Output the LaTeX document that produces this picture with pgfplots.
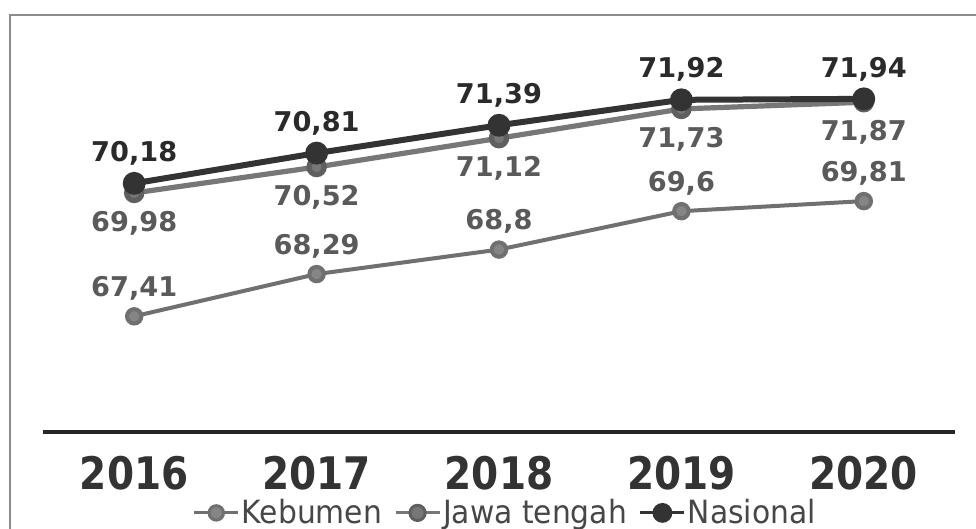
\documentclass[border=0pt]{standalone}
\usepackage{pgfplots}
\pgfplotsset{compat=1.18}
\usepackage{fontspec}
\setmainfont{DejaVu Sans}
\definecolor{cnas}{HTML}{333333}
\definecolor{cjaw}{HTML}{777777}
\definecolor{ckeb}{HTML}{707070}
\definecolor{lnas}{HTML}{2A2A2A}
\definecolor{lgry}{HTML}{5A5A5A}
\begin{document}
\begin{tikzpicture}
\useasboundingbox (0,0) rectangle (488pt,264.5pt);
\fill[white] (0,0) rectangle (488pt,264.5pt);
\draw[line width=1.4pt, color=black!45] (5pt,-1pt) -- (5pt,257pt) -- (489pt,257pt);
\begin{axis}[
  at={(21.5pt,48.5pt)}, anchor=south west,
  scale only axis, width=456pt, height=208.5pt,
  xmin=2015.5, xmax=2020.5, ymin=65, ymax=73.6875,
  axis x line*=bottom, axis y line=none,
  x axis line style={line width=1.6pt, color=black!85, -},
  xtick={2016,2017,2018,2019,2020},
  xticklabels={\scalebox{1}[1.15]{2016},\scalebox{1}[1.15]{2017},\scalebox{1}[1.15]{2018},\scalebox{1}[1.15]{2019},\scalebox{1}[1.15]{2020}},
  major tick length=0pt,
  xticklabel style={font=\fontsize{19.5}{19.5}\selectfont\bfseries, text=black!80, yshift=-8.5pt},
  clip=false,
  point meta=explicit symbolic,
  nodes near coords,
  every node near coord/.append style={anchor=center, font=\fontsize{13.6}{13.6}\selectfont\bfseries},
  legend style={at={(0.508,-0.194)}, anchor=center, draw=none, fill=none,
    legend columns=3, font=\fontsize{16}{16}\selectfont, text=black!72,
    /tikz/every even column/.append style={column sep=4pt}, inner sep=0pt,
    /tikz/every odd column/.append style={column sep=-1pt}},
  legend image code/.code={\draw[#1, line width=1.5pt, mark repeat=2, mark phase=2] plot coordinates {(0pt,0pt) (11pt,0pt) (22pt,0pt)};},
]
\addplot[color=ckeb, line width=2pt, mark=*, mark size=3.6pt, mark options={fill=ckeb!85, draw=ckeb},
  every node near coord/.append style={yshift=14pt, text=lgry}]
  table[meta=lab] {
x y lab
2016 67.41 67,41
2017 68.29 68,29
2018 68.8 68,8
2019 69.6 69,6
2020 69.81 69,81
};
\addlegendentry{\scalebox{0.93}[1]{Kebumen}}
\addplot[color=cjaw, line width=2.6pt, mark=*, mark size=3.8pt, mark options={fill=cjaw, draw=cjaw!80!black},
  every node near coord/.append style={yshift=-15pt, text=lgry}]
  table[meta=lab] {
x y lab
2016 69.98 69,98
2017 70.52 70,52
2018 71.12 71,12
2019 71.73 71,73
2020 71.87 71,87
};
\addlegendentry{\scalebox{0.93}[1]{Jawa tengah}}
\addplot[color=cnas, line width=3pt, mark=*, mark size=4.2pt, mark options={fill=cnas, draw=cnas},
  every node near coord/.append style={yshift=15pt, text=lnas}]
  table[meta=lab] {
x y lab
2016 70.18 70,18
2017 70.81 70,81
2018 71.39 71,39
2019 71.92 71,92
2020 71.94 71,94
};
\addlegendentry{\scalebox{0.93}[1]{Nasional}}
\end{axis}
\end{tikzpicture}
\end{document}
